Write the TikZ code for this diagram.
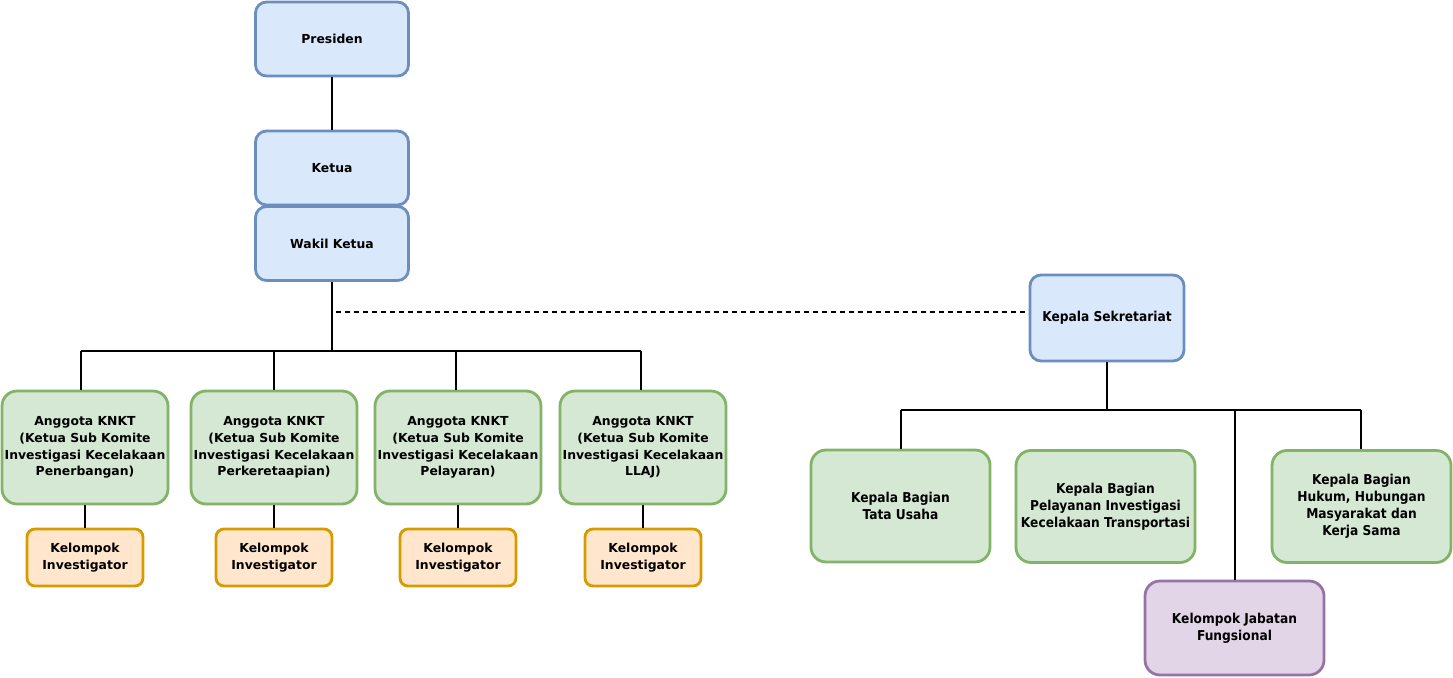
\documentclass[tikz,border=0pt]{standalone}
\usepackage{fontspec}
\setmainfont{DejaVu Sans}
\newfontfamily\condfont{DejaVu Sans Condensed}
\definecolor{bfill}{HTML}{DAE8FC}\definecolor{bdraw}{HTML}{6C8EBF}
\definecolor{gfill}{HTML}{D5E8D4}\definecolor{gdraw}{HTML}{82B366}
\definecolor{ofill}{HTML}{FFE6CC}\definecolor{odraw}{HTML}{D79B00}
\definecolor{pfill}{HTML}{E1D5E7}\definecolor{pdraw}{HTML}{9673A6}
\begin{document}
\begin{tikzpicture}[x=1pt,y=-1pt]
\tikzset{
  box/.style={draw, line width=2.8pt, rounded corners=11pt, align=center, inner sep=0pt,
    font=\bfseries\fontsize{12.4}{16.7}\selectfont},
  rbox/.style={box, font=\condfont\bfseries\fontsize{13.6}{17}\selectfont},
  bluebox/.style={box, fill=bfill, draw=bdraw, minimum width=153pt, minimum height=74pt},
  anggota/.style={box, fill=gfill, draw=gdraw, minimum width=166pt, minimum height=113pt, rounded corners=15pt},
  kelompok/.style={box, fill=ofill, draw=odraw, minimum width=116pt, minimum height=57pt, rounded corners=8pt},
  bagian/.style={rbox, fill=gfill, draw=gdraw, minimum width=179pt, minimum height=112pt, rounded corners=15pt},
  fungsi/.style={rbox, fill=pfill, draw=pdraw, minimum width=179pt, minimum height=94pt, rounded corners=15pt},
  conn/.style={line width=1.9pt, black},
}
\useasboundingbox (0,0) rectangle (1453,677);
% top chain
\node[bluebox] (pres) at (332,39) {Presiden};
\node[bluebox] (ketua) at (332,168) {Ketua};
\node[bluebox] (wakil) at (332,243.5) {Wakil Ketua};
% anggota
\node[anggota] (a1) at (85,447.5) {Anggota KNKT\\(Ketua Sub Komite\\Investigasi Kecelakaan\\Penerbangan)};
\node[anggota] (a2) at (274,447.5) {Anggota KNKT\\(Ketua Sub Komite\\Investigasi Kecelakaan\\Perkeretaapian)};
\node[anggota] (a3) at (458,447.5) {Anggota KNKT\\(Ketua Sub Komite\\Investigasi Kecelakaan\\Pelayaran)};
\node[anggota] (a4) at (643,447.5) {Anggota KNKT\\(Ketua Sub Komite\\Investigasi Kecelakaan\\LLAJ)};
\node[kelompok] (k1) at (85,557.5) {Kelompok\\Investigator};
\node[kelompok] (k2) at (274,557.5) {Kelompok\\Investigator};
\node[kelompok] (k3) at (458,557.5) {Kelompok\\Investigator};
\node[kelompok] (k4) at (643,557.5) {Kelompok\\Investigator};
% sekretariat
\node[bluebox, rbox, fill=bfill, draw=bdraw, minimum width=154pt, minimum height=86pt] (ks) at (1107,318) {Kepala Sekretariat};
\node[bagian] (tu) at (900.5,506) {Kepala Bagian\\Tata Usaha};
\node[bagian] (pl) at (1105.5,506.5) {Kepala Bagian\\Pelayanan Investigasi\\Kecelakaan Transportasi};
\node[bagian] (hk) at (1361.5,506.5) {Kepala Bagian\\Hukum, Hubungan\\Masyarakat dan\\Kerja Sama};
\node[fungsi] (fj) at (1234.5,628) {Kelompok Jabatan\\Fungsional};
% connectors left
\coordinate (busM) at (332,351);
\coordinate (b1) at (81,351);
\coordinate (b2) at (274,351);
\coordinate (b3) at (456,351);
\coordinate (b4) at (641,351);
\draw[conn] (pres) -- (ketua);
\draw[conn] (wakil) -- (busM);
\draw[conn] (b1) -- (b4);
\draw[conn] (b1) -- (b1 |- a1.north);
\draw[conn] (b2) -- (b2 |- a2.north);
\draw[conn] (b3) -- (b3 |- a3.north);
\draw[conn] (b4) -- (b4 |- a4.north);
\draw[conn] (a1) -- (k1);
\draw[conn] (a2) -- (k2);
\draw[conn] (a3) -- (k3);
\draw[conn] (a4) -- (k4);
% dashed
\coordinate (ds) at (336,312);
\draw[conn, line width=1.5pt, dash pattern=on 5pt off 4pt] (ds) -- (ds -| ks.west);
% connectors right
\coordinate (rM) at (1107,410);
\coordinate (r1) at (901,410);
\coordinate (r3) at (1235,410);
\coordinate (r4) at (1361,410);
\draw[conn] (ks) -- (rM);
\draw[conn] (r1) -- (r4);
\draw[conn] (r1) -- (r1 |- tu.north);
\draw[conn] (r3) -- (r3 |- fj.north);
\draw[conn] (r4) -- (r4 |- hk.north);
\end{tikzpicture}
\end{document}
